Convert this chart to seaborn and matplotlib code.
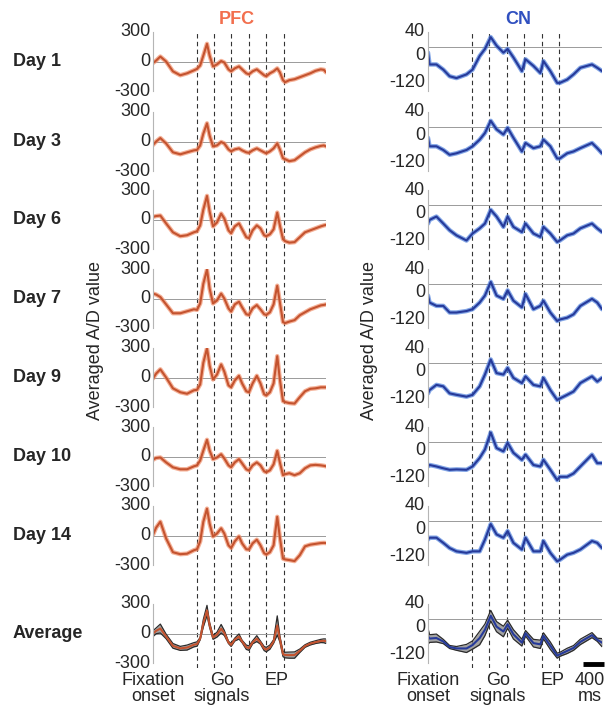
import numpy as np
import matplotlib
matplotlib.use("Agg")
import matplotlib.pyplot as plt
import matplotlib.transforms as mtransforms
import seaborn as sns

# time axis (ms from start of trial window)
pfc_t = [0, 60, 140, 250, 380, 520, 650, 780, 840, 900, 960, 1030, 1080, 1145,
         1220, 1300, 1360, 1440, 1490, 1560, 1640, 1700, 1780, 1830, 1900, 1980,
         2050, 2120, 2160, 2230, 2300, 2370, 2420, 2480, 2520, 2600, 2700, 2800,
         2900, 3000, 3100, 3200, 3260, 3300]
cn_t = [0, 30, 160, 290, 410, 540, 730, 845, 980, 1080, 1190, 1300, 1430, 1510,
        1620, 1780, 1850, 2000, 2130, 2190, 2320, 2450, 2500, 2640, 2760, 2890,
        3110, 3210, 3300]
events = [840, 1160, 1495, 1830, 2160, 2490]
days = ["Day 1", "Day 3", "Day 6", "Day 7", "Day 9", "Day 10", "Day 14"]

pfc_day1 = [-15, 10, 50, 0, -100, -140, -120, -90, -75, -40, 60, 180, 60, -50,
            -30, 5, -10, -80, -100, -70, -50, -80, -120, -130, -100, -80, -110,
            -140, -150, -120, -100, -70, -110, -190, -210, -190, -180, -160, -140,
            -120, -95, -80, -85, -110]
pfc_day3 = [-35, 0, 35, -20, -110, -130, -110, -90, -85, -40, 80, 185, 60, -50,
            -40, -5, -20, -80, -100, -80, -70, -90, -110, -115, -90, -70, -90,
            -110, -120, -100, -70, -20, -80, -170, -180, -200, -190, -150, -110,
            -80, -60, -45, -40, -50]
pfc_day6 = [27, 35, 40, -40, -130, -170, -160, -130, -120, -60, 100, 240, 80, -70,
            -30, 60, 10, -110, -140, -70, -40, -100, -180, -190, -110, -60, -90,
            -160, -170, -150, -100, 70, -60, -200, -220, -235, -230, -180, -130,
            -110, -90, -70, -60, -55]
pfc_day7 = [50, 40, 15, -60, -150, -150, -130, -110, -115, -50, 150, 295, 100, -50,
            -20, 50, 0, -100, -133, -60, -33, -90, -160, -167, -100, -67, -110,
            -160, -167, -140, -60, 130, -40, -240, -250, -235, -220, -170, -140,
            -110, -90, -70, -65, -60]
pfc_day9 = [-10, 40, 83, 0, -110, -150, -165, -130, -125, -70, 150, 298, 120, -20,
            30, 133, 60, -80, -100, -30, 17, -60, -140, -150, -60, 17, -60, -170,
            -183, -150, -60, 217, -20, -240, -250, -260, -265, -200, -140, -115,
            -110, -100, -100, -100]
pfc_day10 = [-33, -15, -10, -60, -110, -130, -130, -100, -90, -40, 60, 170, 60, -27,
             -10, 23, -20, -90, -110, -60, -27, -70, -130, -143, -90, -60, -90,
             -150, -160, -140, -80, 57, -60, -190, -180, -170, -190, -170, -120,
             -90, -85, -90, -95, -100]
pfc_day14 = [7, 80, 140, -30, -170, -190, -185, -150, -140, -60, 140, 273, 120, -10,
             20, 73, 20, -100, -127, -60, -10, -80, -140, -143, -80, -43, -100,
             -180, -193, -170, -100, 190, -20, -235, -243, -250, -260, -200, -110,
             -93, -85, -77, -75, -77]

cn_day1 = [-16, -48, -48, -62, -80, -85, -75, -62, -25, -6, 26, 3, -16, -6, -29,
           -66, -34, -52, -71, -39, -66, -98, -98, -89, -75, -57, -48, -57, -66]
cn_day3 = [-30, -53, -53, -63, -76, -72, -63, -53, -35, -17, 16, -7, -21, -3, -30,
           -67, -44, -58, -53, -35, -53, -86, -86, -72, -67, -58, -44, -58, -72]
cn_day6 = [-51, -41, -32, -51, -69, -83, -97, -78, -64, -51, -14, -32, -60, -32,
           -60, -74, -51, -78, -87, -60, -78, -101, -97, -83, -78, -64, -51, -64, -74]
cn_day7 = [-32, -51, -60, -60, -78, -78, -74, -69, -51, -32, 5, -32, -41, -18, -46,
           -64, -28, -69, -60, -46, -78, -101, -97, -92, -83, -60, -41, -51, -69]
cn_day9 = [-83, -74, -60, -64, -83, -87, -92, -87, -64, -32, 9, -28, -32, -14, -41,
           -55, -37, -60, -64, -41, -74, -101, -97, -87, -78, -55, -37, -51, -41]
cn_day10 = [-67, -63, -67, -72, -76, -75, -76, -67, -44, -21, 25, -17, -26, -3, -30,
            -49, -35, -63, -67, -49, -76, -104, -95, -95, -86, -67, -35, -58, -58]
cn_day14 = [-51, -46, -46, -60, -74, -83, -87, -83, -83, -51, -9, -37, -46, -28,
            -60, -78, -46, -83, -83, -55, -87, -110, -106, -92, -87, -78, -55, -60, -74]

pfc_days = [pfc_day1, pfc_day3, pfc_day6, pfc_day7, pfc_day9, pfc_day10, pfc_day14]
cn_days = [cn_day1, cn_day3, cn_day6, cn_day7, cn_day9, cn_day10, cn_day14]

event_labels = ["Fixation\nonset", "Go\nsignals", "EP"]
pfc_label_t = [0, 1316, 2347]
cn_label_t = [0, 1328, 2370]
scale_bar_ms = 400

sns.set_style("white")
plt.rcParams["font.family"] = ["Liberation Sans", "DejaVu Sans"]

W, H = 606, 706
fig = plt.figure(figsize=(W / 100, H / 100), dpi=100)


def rect(left, top, width, height):
    return [left / W, 1 - (top + height) / H, width / W, height / H]


row_tops = [32, 112, 190, 269, 348, 427, 506, 604]
row_h = 59
cols = [
    dict(name="PFC", left=153, width=173, t=pfc_t, data=pfc_days, ylim=(-300, 300),
         ticks=[300, 0, -300], core="#c4532f", halo="#f0906c", title="#f26f4e",
         label_t=pfc_label_t, ylab_x=95, title_x=237, tick_va=["center"] * 3),
    dict(name="CN", left=428, width=174, t=cn_t, data=cn_days, ylim=(-120, 40),
         ticks=[40, 0, -120], core="#263a9a", halo="#4f80dc", title="#3050c0",
         label_t=cn_label_t, ylab_x=369, title_x=518,
         tick_va=["center", "top", "bottom"]),
]

for c in cols:
    # dashed event lines running through all panels
    ov = fig.add_axes(rect(c["left"], 31, c["width"], 637))
    ov.set_xlim(0, 3300)
    ov.axis("off")
    for e in events:
        ov.axvline(e, color="#333333", lw=0.8, ls=(0, (4, 3)))

    t = np.array(c["t"])
    arr = np.array(c["data"], dtype=float)
    for i, top in enumerate(row_tops):
        ax = fig.add_axes(rect(c["left"], top, c["width"], row_h))
        ax.patch.set_visible(False)
        ax.axhline(0, color="#9a9a9a", lw=0.7, zorder=1)
        if i < len(days):
            y = arr[i]
            sns.lineplot(x=t, y=y, ax=ax, color=c["halo"], lw=3.2, alpha=0.7)
        else:
            y = arr.mean(axis=0)
            sd = arr.std(axis=0)
            ax.fill_between(t, y - sd, y + sd, color="#8c8c8c", alpha=0.8, lw=0)
            sns.lineplot(x=t, y=y - sd, ax=ax, color="#2b2b2b", lw=0.9)
            sns.lineplot(x=t, y=y + sd, ax=ax, color="#2b2b2b", lw=0.9)
        sns.lineplot(x=t, y=y, ax=ax, color=c["core"], lw=1.5)
        ax.set_xlim(0, 3300)
        ax.set_ylim(*c["ylim"])
        ax.set_xticks([])
        ax.set_yticks(c["ticks"])
        ax.set_yticklabels([str(v) for v in c["ticks"]], fontsize=13)
        for lab, va in zip(ax.get_yticklabels(), c["tick_va"]):
            lab.set_va(va)
        ax.tick_params(axis="y", length=0, pad=2)
        ax.set_xlabel("")
        ax.set_ylabel("")
        for s in ["top", "right", "bottom"]:
            ax.spines[s].set_visible(False)
        ax.spines["left"].set_color("#b5b5b5")
        ax.spines["left"].set_linewidth(0.8)

        if c["name"] == "PFC":
            lab = days[i] if i < len(days) else "Average"
            fig.text(13 / W, 1 - (top + row_h / 2) / H, lab, fontsize=13,
                     fontweight="bold", va="center", ha="left")

        if i == len(row_tops) - 1:
            tr = mtransforms.blended_transform_factory(ax.transData, fig.transFigure)
            for lt, lab in zip(c["label_t"], event_labels):
                ax.text(lt, 1 - 672 / H, lab, transform=tr, ha="center", va="top",
                        fontsize=13, multialignment="center", linespacing=0.95)
            if c["name"] == "CN":
                trb = mtransforms.blended_transform_factory(ax.transData, ax.transAxes)
                ax.plot([2940, 2940 + scale_bar_ms], [-0.02, -0.02], transform=trb,
                        color="black", lw=3.5, solid_capstyle="butt", clip_on=False)
                ax.text(3070, 1 - 672 / H, "400\nms", transform=tr,
                        ha="center", va="top", fontsize=13, linespacing=0.95)

    fig.text(c["title_x"] / W, 1 - 20 / H, c["name"], color=c["title"], fontsize=13,
             fontweight="bold", ha="center", va="center")
    fig.text(c["ylab_x"] / W, 1 - 341 / H, "Averaged A/D value", rotation=90,
             fontsize=13, ha="center", va="center")

fig.savefig("out.png", dpi=100)
